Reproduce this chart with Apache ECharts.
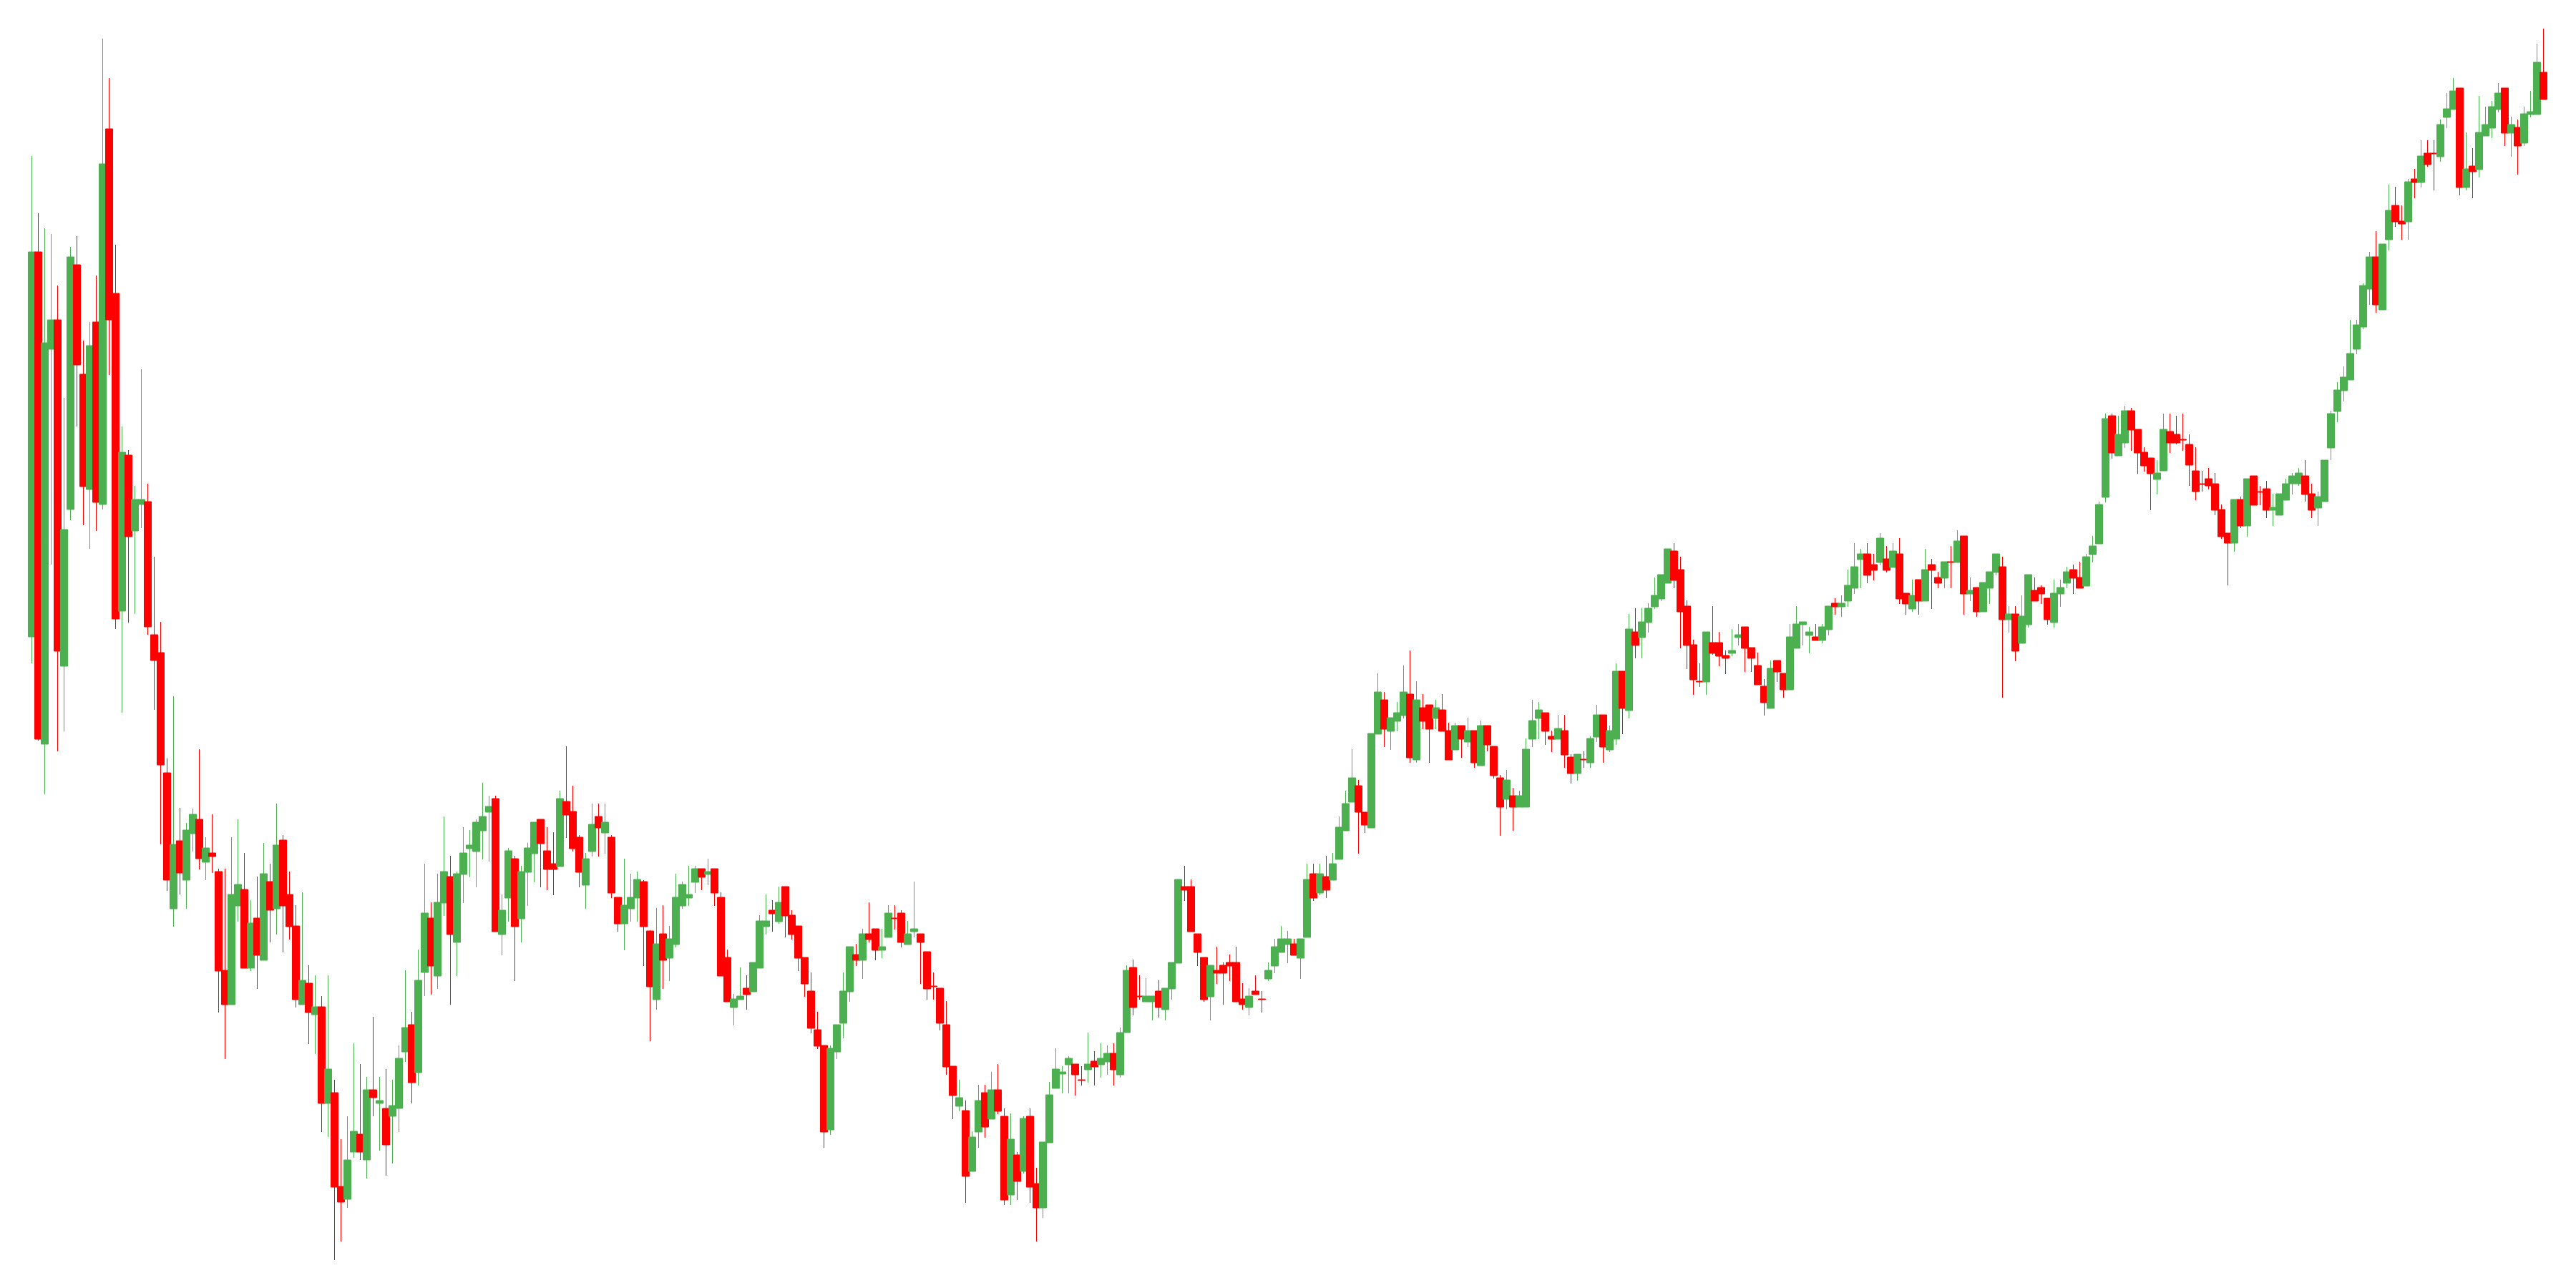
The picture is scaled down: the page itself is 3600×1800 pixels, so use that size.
<!DOCTYPE html>
<html>
<head>
<meta charset="utf-8">
<script src="https://cdn.jsdelivr.net/npm/echarts@6/dist/echarts.min.js"></script>
<style>html,body{margin:0;padding:0;background:#fff;}#c{width:3600px;height:1800px;}</style>
</head>
<body>
<div id="c"></div>
<script>
const opens = [91.0,144.8,76.0,131.2,135.3,86.9,108.8,143.0,127.7,111.6,135.0,109.5,162.0,139.0,94.6,116.4,105.8,109.5,109.9,91.3,
88.8,72.0,53.0,62.5,57.0,63.5,65.5,59.5,60.8,58.2,44.4,39.6,53.4,55.7,44.7,51.7,45.8,56.8,53.0,62.6,
55.0,50.6,39.6,42.6,38.2,39.3,25.8,27.3,14.2,12.4,19.0,21.5,17.9,27.7,25.8,25.1,24.0,25.1,33.0,36.8,
30.1,44.1,51.7,43.6,53.8,57.5,48.3,57.8,61.4,61.0,63.9,66.5,68.4,49.4,54.5,60.0,51.6,58.1,60.7,65.5,
61.1,59.3,58.9,68.0,66.6,63.0,56.3,61.0,65.9,63.6,63.0,54.6,50.9,53.0,54.5,56.8,49.9,40.3,49.5,46.1,
48.0,53.4,54.5,56.7,58.6,57.8,58.6,54.6,46.2,39.2,40.3,41.9,41.4,44.7,50.5,52.8,51.2,56.1,52.1,50.6,
46.2,41.5,36.1,33.9,22.1,33.0,37.0,41.4,46.6,45.8,49.5,50.2,47.2,49.0,51.7,52.4,48.0,49.8,49.5,47.0,
42.2,41.9,36.8,31.0,25.4,24.8,16.3,21.8,27.3,23.6,27.7,24.0,13.0,18.6,16.3,24.0,14.6,11.2,20.3,27.9,
29.9,31.2,31.3,29.1,30.5,31.7,31.2,31.6,32.8,29.8,35.7,44.8,40.8,40.0,40.0,41.5,38.9,41.8,45.4,56.1,
56.1,49.5,46.2,40.7,44.4,45.1,45.5,45.5,40.4,39.2,41.5,40.4,43.2,45.0,46.9,48.0,48.1,46.1,49.0,57.9,
55.2,57.5,57.0,59.9,63.9,67.9,70.2,66.5,64.3,77.4,82.2,77.8,79.2,80.0,83.0,73.8,81.1,81.5,79.6,80.8,
77.9,75.2,78.6,76.3,77.9,73.0,78.6,75.7,71.3,68.3,68.8,67.2,67.2,76.7,79.6,80.4,77.1,76.7,77.9,74.2,
71.9,73.9,73.4,77.0,80.1,75.2,76.7,86.2,80.7,91.7,90.9,93.0,95.2,96.3,98.5,103.0,100.4,95.3,89.9,84.8,
84.7,90.2,90.2,88.4,88.7,90.9,92.4,89.5,87.0,84.1,81.0,87.7,85.9,83.6,89.4,92.7,91.2,91.0,90.5,92.0,
95.7,95.2,96.0,97.8,101.8,102.6,101.1,101.4,101.9,100.7,102.6,97.1,94.9,99.0,96.0,101.1,99.3,99.2,101.5,101.4,
105.1,97.0,97.9,94.5,97.8,100.0,100.8,93.4,94.2,90.1,92.7,97.5,97.9,96.4,93.0,97.0,98.5,100.4,99.3,98.1,
102.5,104.0,110.5,121.9,116.3,118.1,122.6,120.0,116.8,116.0,113.0,114.2,119.7,119.3,118.6,117.9,114.2,112.4,113.1,112.4,
108.8,105.5,104.1,110.2,106.5,113.5,111.3,111.7,108.7,108.0,110.1,112.4,112.4,113.5,111.0,109.0,109.9,117.4,122.5,125.4,
126.9,131.2,134.3,139.6,144.1,136.7,146.5,151.3,149.1,149.0,155.0,154.5,158.6,158.6,158.1,163.6,164.7,167.7,153.8,156.8,
156.3,161.0,162.1,164.7,167.7,161.4,162.2,160.0,164.0,164.0,169.9];
const closes = [144.8,76.7,132.1,135.3,89.0,106.0,144.1,129.0,112.0,131.7,109.8,157.1,135.3,93.5,116.8,105.0,110.2,110.2,92.4,87.7,
73.1,57.0,62.0,58.0,64.0,66.2,60.0,61.5,60.3,44.3,39.6,55.0,56.4,44.7,51.0,46.5,57.9,52.8,61.9,53.4,
50.5,40.3,43.0,38.5,39.3,25.8,30.6,14.1,12.0,17.9,21.9,19.0,27.7,26.6,26.2,20.0,25.5,32.1,36.4,28.7,
43.0,52.4,45.0,53.9,58.2,49.4,57.9,60.8,61.9,65.1,65.9,67.3,49.8,52.8,61.1,50.5,58.2,61.5,65.1,62.1,
58.5,58.5,68.4,66.1,61.4,58.1,60.0,64.8,64.3,65.1,55.2,50.9,53.5,54.6,57.1,50.5,42.1,48.1,45.8,48.8,
54.6,56.4,55.0,58.6,57.4,58.2,55.2,43.6,40.0,40.4,40.8,41.0,45.5,51.3,51.3,52.3,53.9,52.0,49.4,46.1,
42.5,36.3,33.8,21.8,33.5,36.8,41.5,47.7,45.8,49.5,48.7,47.2,47.7,52.4,51.6,48.3,49.5,50.2,48.3,41.8,
42.1,37.0,30.9,26.9,26.6,15.6,21.1,26.2,22.5,27.7,24.7,12.3,20.8,14.9,23.7,14.1,11.2,20.4,27.0,30.6,
30.2,32.1,29.8,29.0,31.3,30.9,32.1,32.8,30.5,35.7,44.4,39.2,40.7,40.8,40.8,39.2,41.9,45.5,57.1,55.6,
49.8,46.9,40.3,45.1,44.0,44.0,45.0,40.0,39.6,40.8,41.0,40.3,44.4,47.7,48.8,48.8,46.5,48.8,57.1,54.5,
57.9,55.6,59.3,64.4,67.7,71.3,66.5,64.7,77.5,83.3,78.1,79.7,80.4,83.3,74.1,82.2,79.2,78.1,81.1,77.8,
73.8,78.6,76.7,77.9,73.4,78.6,75.9,71.6,67.2,71.0,67.2,68.8,75.3,79.3,80.8,77.8,76.7,78.2,74.5,71.9,
74.6,73.8,76.8,80.1,75.6,77.9,86.2,81.0,92.1,89.8,93.1,95.0,96.8,99.7,103.3,98.9,94.5,89.8,85.0,84.7,
91.7,88.7,88.3,88.0,89.1,91.3,89.4,88.0,84.3,81.8,86.6,86.1,83.6,91.0,92.8,93.1,91.7,90.5,92.4,95.3,
95.2,95.7,98.2,100.8,102.6,99.6,100.3,104.8,100.3,103.0,96.3,95.6,96.8,96.0,100.4,100.3,98.5,101.5,101.4,104.4,
97.0,97.5,94.5,98.6,100.1,102.6,93.4,94.2,89.0,93.9,99.7,96.0,97.0,93.4,97.1,97.9,100.1,99.2,97.8,102.2,
103.7,109.5,121.5,116.7,119.3,122.6,119.9,116.7,114.9,113.8,113.9,120.0,118.1,118.1,118.5,115.0,111.3,112.3,112.1,108.7,
105.0,104.1,110.2,106.5,113.1,109.4,111.2,108.7,109.1,111.0,112.4,113.5,113.9,110.9,108.7,110.6,115.7,122.2,125.5,127.3,
130.6,134.6,140.1,144.1,137.4,145.9,150.6,149.0,148.7,154.6,154.5,158.2,157.0,158.5,162.6,164.8,167.3,153.8,156.4,156.0,
161.5,162.6,165.1,167.0,161.4,162.6,159.6,164.1,164.4,171.3,166.1];
const lows = [87.3,76.5,69.0,101.1,75.0,77.8,107.3,120.4,106.6,103.3,105.8,108.8,127.6,92.1,80.4,93.0,94.2,106.2,91.3,80.8,
62.0,55.5,50.5,55.0,53.0,61.0,58.5,57.0,58.0,38.5,32.0,39.6,51.2,44.7,44.3,41.8,45.8,48.3,49.4,46.9,
48.7,39.2,39.6,34.1,32.7,21.8,21.1,3.9,6.5,11.2,18.2,17.9,15.3,24.0,19.2,15.7,17.4,21.8,31.6,25.8,
28.3,40.8,41.0,41.8,52.0,39.6,43.6,53.8,57.4,56.0,59.9,59.6,49.8,46.5,51.2,42.9,48.3,53.4,56.7,56.0,
55.6,54.9,58.9,62.9,61.0,56.0,53.0,60.3,60.3,60.7,54.5,49.8,47.2,51.2,51.2,45.0,34.5,38.9,41.8,42.9,
47.6,53.0,53.4,55.2,55.6,56.3,53.4,43.6,40.0,36.7,40.3,38.9,41.4,44.7,49.4,49.8,50.9,49.0,48.7,44.3,
40.7,35.6,33.4,19.6,21.4,32.0,34.9,40.0,45.0,43.2,48.3,45.8,46.1,49.0,50.1,47.6,48.0,49.0,42.5,40.3,
40.3,36.0,29.8,23.6,24.7,11.9,16.3,19.6,21.0,23.6,24.3,11.6,11.6,12.3,16.0,11.9,6.5,9.8,20.3,27.9,
27.2,27.2,26.9,28.3,28.7,28.3,29.4,29.8,28.3,29.4,35.7,38.1,40.3,40.0,37.4,37.8,37.4,40.3,45.4,54.1,
49.8,45.0,40.0,37.4,42.5,39.6,42.9,40.0,38.9,38.1,41.0,38.5,42.9,44.0,46.9,45.4,46.5,43.2,49.0,54.1,
54.9,54.5,57.0,59.9,63.9,67.9,60.7,63.6,64.3,77.4,75.6,75.2,77.8,79.6,73.4,73.4,78.1,73.4,78.1,77.8,
73.8,75.2,74.1,75.6,72.7,73.0,75.0,71.2,63.2,66.9,63.9,67.2,67.2,75.6,76.7,75.9,74.9,76.7,72.7,70.5,
70.9,72.7,72.7,76.3,73.4,74.9,75.9,77.4,79.6,88.0,88.0,91.6,94.9,96.0,98.5,97.8,89.4,86.5,82.9,84.0,
82.9,88.5,86.9,85.8,88.3,89.8,86.1,86.1,84.3,80.0,81.0,84.7,82.5,83.6,89.4,89.8,88.7,90.5,90.1,91.2,
94.1,93.8,95.2,97.0,97.8,98.5,98.9,101.0,100.0,100.7,95.6,94.1,94.5,94.1,96.0,94.9,97.8,97.8,97.8,101.4,
94.1,96.0,93.8,94.5,95.6,99.6,82.5,91.6,87.6,90.1,92.3,96.0,95.6,92.7,92.3,95.2,97.8,97.0,97.8,98.1,
101.4,104.0,109.8,115.9,116.3,117.4,117.0,113.8,114.1,108.7,110.9,114.2,116.7,117.9,117.0,112.1,110.1,111.3,111.6,108.0,
104.7,98.2,102.9,106.2,105.0,109.4,109.4,107.6,106.5,108.0,110.1,110.9,112.1,109.9,107.6,106.5,109.9,115.7,121.0,123.9,
126.9,130.5,134.0,137.4,136.3,136.7,145.0,148.3,146.5,146.5,152.3,153.8,156.7,153.4,157.4,162.1,164.7,152.7,153.4,152.3,
155.2,161.0,160.7,164.3,159.6,158.1,155.6,159.6,163.6,164.0,166.1];
const highs = [158.2,150.2,148.1,147.3,140.1,124.4,145.5,147.0,132.4,135.0,141.5,174.6,169.1,145.8,120.4,117.1,112.1,128.4,112.4,102.2,
93.1,74.0,82.7,67.1,65.0,67.0,75.3,63.0,66.2,58.6,58.6,63.0,65.5,60.8,54.2,57.5,62.2,59.3,67.7,63.3,
58.2,53.5,55.3,45.1,43.7,40.8,43.7,29.1,20.8,24.0,34.2,31.3,29.5,37.9,29.5,30.6,29.1,33.9,44.4,38.6,
47.3,59.3,53.9,57.9,65.9,60.4,58.2,64.4,64.0,65.5,70.6,68.8,68.8,55.0,61.5,60.4,59.0,62.2,65.1,65.5,
64.4,63.7,69.5,75.7,70.2,63.3,60.8,67.7,67.7,67.7,63.3,54.6,60.0,57.9,58.2,57.0,50.0,53.1,53.5,50.6,
57.9,56.8,59.0,59.0,58.6,60.0,58.6,55.3,47.3,41.1,44.8,43.7,45.5,52.1,55.0,54.2,56.1,56.1,52.8,50.6,
46.2,44.1,38.6,33.9,33.9,36.8,44.1,47.7,48.1,50.2,53.9,50.2,50.2,53.5,53.5,52.8,51.3,56.8,49.5,47.0,
44.1,41.9,40.1,31.0,29.1,26.2,21.9,28.4,28.4,30.2,31.3,25.1,24.4,19.0,24.0,25.1,16.8,20.4,28.8,33.5,
31.0,32.4,31.3,31.0,35.7,33.1,34.2,33.9,34.2,36.4,45.1,45.9,43.7,43.3,40.8,43.0,41.9,45.5,57.1,59.0,
57.1,49.5,46.2,45.1,47.7,45.5,46.6,47.7,42.6,41.9,43.7,41.5,45.5,48.8,50.6,49.9,48.8,48.8,59.3,59.3,
59.3,60.4,60.8,65.9,69.5,75.3,71.0,66.5,77.5,85.9,83.3,79.7,81.9,87.0,89.1,84.8,83.0,81.5,82.2,83.0,
79.0,79.0,78.6,79.7,77.9,79.3,78.6,75.7,71.7,72.4,69.9,69.5,76.8,82.2,81.9,80.4,77.9,80.1,80.1,74.6,
74.6,75.0,77.1,81.5,80.1,78.6,87.3,86.2,94.2,95.0,95.0,95.7,99.3,99.7,103.3,104.1,102.2,96.1,90.6,87.3,
91.7,95.3,91.7,89.1,92.1,92.8,92.4,89.5,88.8,85.1,87.7,87.7,85.9,92.8,95.3,93.1,92.4,92.8,92.8,95.3,
96.4,96.8,100.4,104.1,103.3,104.1,102.6,105.5,103.7,104.1,104.8,97.1,99.0,99.0,103.3,101.9,100.1,101.5,103.7,105.9,
105.1,99.3,97.9,98.6,100.1,102.6,102.2,95.3,95.3,96.8,99.7,99.3,98.2,96.4,99.0,99.0,100.8,101.1,101.5,102.6,
105.1,109.9,122.2,122.2,121.9,123.3,123.0,120.0,117.5,116.0,115.7,122.2,122.2,121.9,122.2,119.3,117.5,114.2,114.6,113.9,
109.5,105.5,110.2,110.6,113.1,113.5,112.1,112.8,111.0,111.0,113.1,113.9,114.6,115.7,112.4,111.3,115.7,122.6,126.6,128.8,
135.3,135.3,140.4,144.8,147.7,145.9,154.2,153.9,151.3,155.0,156.4,160.4,160.4,160.4,163.3,167.0,169.1,167.7,161.5,159.3,
166.6,165.1,165.9,168.4,167.7,163.7,163.3,165.1,167.3,173.9,176.0];

const categories = opens.map((_, i) => String(i + 1));
const ohlc = opens.map((o, i) => [o, closes[i], lows[i], highs[i]]);

const chart = echarts.init(document.getElementById('c'), null, {renderer: 'canvas'});
chart.setOption({
  animation: false,
  backgroundColor: '#ffffff',
  grid: {left: 40, right: 41, top: 0, bottom: 0},
  xAxis: {
    type: 'category', data: categories, boundaryGap: true,
    axisLine: {show: false}, axisTick: {show: false}, axisLabel: {show: false}, splitLine: {show: false}
  },
  yAxis: {
    type: 'value', min: 0, max: 180, scale: false,
    axisLine: {show: false}, axisTick: {show: false}, axisLabel: {show: false}, splitLine: {show: false}
  },
  series: [{
    type: 'candlestick',
    data: ohlc,
    barWidth: 10,
    itemStyle: {
      color: '#4CAF50', color0: '#FF0000',
      borderColor: '#4CAF50', borderColor0: '#FF0000',
      borderWidth: 1
    }
  }]
});
</script>
</body>
</html>
